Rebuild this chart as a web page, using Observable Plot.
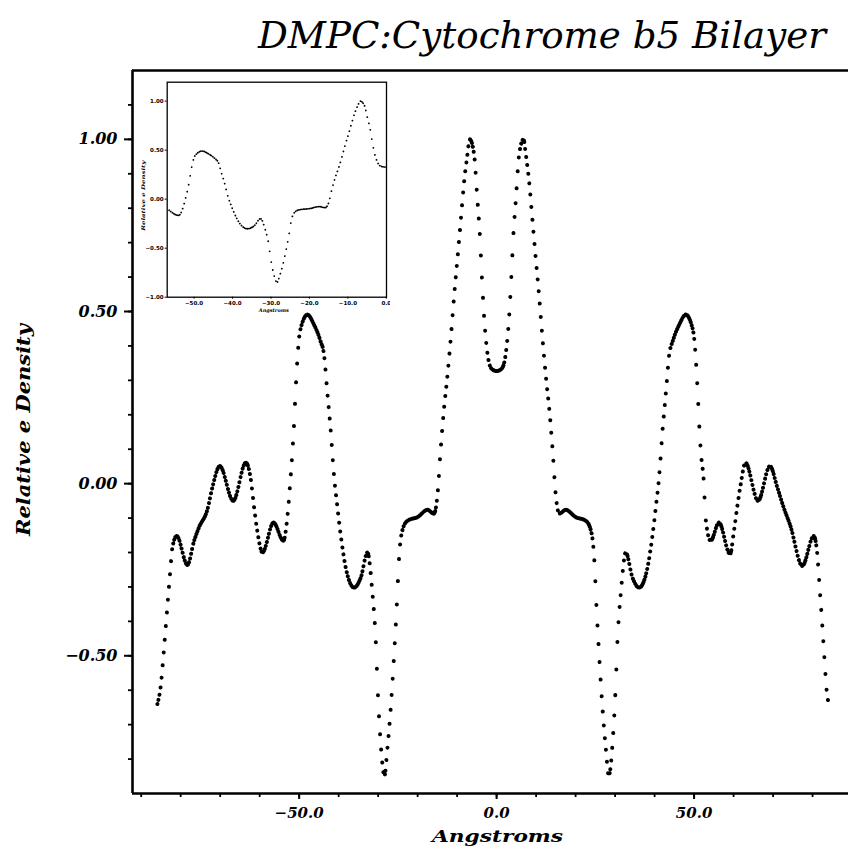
<!DOCTYPE html>
<html><head><meta charset="utf-8">
<script src="https://cdn.jsdelivr.net/npm/d3@7"></script>
<script src="https://cdn.jsdelivr.net/npm/@observablehq/plot@0.6"></script>
<style>
html,body{margin:0;padding:0;background:#fff;}
#wrap{position:relative;width:848px;height:848px;overflow:hidden;background:#fff;}
#main{position:absolute;left:0;top:0;width:848px;}
#titlebox{position:absolute;left:0;top:0;overflow:visible;}
#inset{position:absolute;left:140px;top:76px;width:250px;}
svg{max-width:none !important;}
</style></head><body>
<div id="wrap"><div id="main"></div><svg id="titlebox" width="848" height="68"></svg><div id="inset"></div></div>
<script>
// ---- text ----
const titleText = "DMPC:Cytochrome b5 Bilayer";
const xTitle = "Angstroms";
const yTitle = "Relative e Density";

// ---- data ----
const angstroms = [
 -85.9,-85.1,-84.2,-83.4,-82.7,-82.1,-81.0,-78.3,-76.6,-75.4,-73.2,-72.0,-70.1,-66.7,-63.5,-62.3,-61.4,-60.6,-59.3,-56.5,
 -54.0,-53.0,-52.3,-51.7,-51.3,-50.9,-50.1,-49.2,-47.9,-46.3,-44.6,-43.7,-42.9,-42.0,-41.2,-40.3,-39.5,-38.2,-36.1,-34.4,
 -32.7,-31.5,-30.6,-30.1,-29.4,-28.4,-27.7,-26.8,-26.0,-25.3,-24.7,-23.9,-22.6,-20.0,-17.5,-15.9,-15.0,-14.2,-13.3,-12.5,
 -11.6,-10.8,-9.9,-9.1,-8.3,-7.4,-6.8,-5.7,-4.9,-4.2,-3.8,-3.2,-2.4,-1.8,-1.1,0.0,
 1.1,1.8,2.4,3.2,3.8,4.2,4.9,5.7,6.8,7.4,8.3,9.1,9.9,10.8,11.6,12.5,13.3,14.2,15.0,15.9,17.5,20.0,22.6,23.9,24.7,25.3,
 26.0,26.8,27.7,28.4,29.4,30.1,30.6,31.5,32.7,34.4,36.1,38.2,39.5,40.3,41.2,42.0,42.9,43.7,44.6,46.3,47.9,49.2,50.1,50.9,
 51.3,51.7,52.5,52.9,54.2,56.3,59.1,60.1,60.9,61.8,63.0,66.2,69.2,71.1,72.7,74.4,77.4,80.3,81.2,81.8,82.5,83.0,83.5,84.1
];
const density = [
 -0.640,-0.592,-0.476,-0.360,-0.263,-0.186,-0.152,-0.236,-0.166,-0.128,-0.074,-0.012,0.051,-0.050,0.061,0.017,-0.070,-0.137,-0.200,-0.113,
 -0.166,-0.099,-0.002,0.095,0.172,0.269,0.414,0.467,0.491,0.463,0.414,0.375,0.269,0.153,0.027,-0.070,-0.147,-0.244,-0.302,-0.273,
 -0.200,-0.311,-0.456,-0.601,-0.746,-0.848,-0.775,-0.650,-0.505,-0.360,-0.215,-0.137,-0.108,-0.097,-0.076,-0.087,-0.036,0.095,0.220,0.308,
 0.424,0.540,0.656,0.762,0.869,0.956,1.000,0.956,0.830,0.714,0.617,0.491,0.385,0.346,0.332,0.327,
 0.332,0.346,0.385,0.491,0.617,0.714,0.830,0.956,1.000,0.956,0.869,0.762,0.656,0.540,0.424,0.308,0.220,0.095,-0.036,-0.087,-0.076,-0.097,-0.108,-0.137,-0.215,-0.360,
 -0.505,-0.650,-0.775,-0.848,-0.746,-0.601,-0.456,-0.311,-0.200,-0.273,-0.302,-0.244,-0.147,-0.070,0.027,0.153,0.269,0.375,0.414,0.463,0.491,0.467,0.414,0.269,
 0.172,0.095,-0.002,-0.099,-0.166,-0.113,-0.205,-0.137,-0.070,-0.002,0.061,-0.050,0.051,-0.012,-0.070,-0.123,-0.239,-0.152,-0.205,-0.302,-0.418,-0.505,-0.592,-0.640
];

// ---- axes ----
const xDomain = [-92.2, 89.1];
const yDomain = [-0.9, 1.2];
const xMajorTicks = [-50, 0, 50];
const xMinorTicks = [-90,-80,-70,-60,-50,-40,-30,-20,-10,0,10,20,30,40,50,60,70,80];
const yMajorTicks = [-0.5, 0, 0.5, 1.0];
const yMinorTicks = [-0.8,-0.7,-0.6,-0.5,-0.4,-0.3,-0.2,-0.1,0,0.1,0.2,0.3,0.4,0.5,0.6,0.7,0.8,0.9,1.0,1.1];

const insetXDomain = [-57, 0.05];
const insetYDomain = [-1.0, 1.193];
const insetXTicks = [-50, -40, -30, -20, -10, 0];
const insetYTicks = [-1.0, -0.5, 0, 0.5, 1.0];

const curve = angstroms.map((a, i) => ({x: a, y: density[i]}));
const insetCurve = curve.filter(d => d.x >= -59 && d.x <= 2);

const labFont = {fontFamily: "DejaVu Serif", fontWeight: "bold", fontStyle: "italic"};

const main = Plot.plot({
  width: 848, height: 848,
  marginTop: 70, marginLeft: 132, marginRight: 0, marginBottom: 55,
  x: {domain: xDomain},
  y: {domain: yDomain},
  style: {background: "white", color: "black"},
  marks: [
    Plot.axisY(yMinorTicks, {tickSize: 4, tickFormat: () => "", strokeWidth: 1.8, label: null}),
    Plot.axisY(yMajorTicks, {tickSize: 8, tickPadding: 7, tickFormat: d3.format(".2f"), fontSize: 16, ...labFont, strokeWidth: 2, label: null}),
    Plot.axisX(xMinorTicks, {tickSize: 4, tickFormat: () => "", strokeWidth: 1.8, label: null}),
    Plot.axisX(xMajorTicks, {tickSize: 6, tickPadding: 8, tickFormat: d3.format(".1f"), fontSize: 15, ...labFont, strokeWidth: 2, label: null}),
    Plot.ruleX([xDomain[0]], {strokeWidth: 2.6}),
    Plot.ruleY(yDomain, {strokeWidth: 2.6}),
    Plot.line(curve, {x: "x", y: "y", curve: "monotone-x", stroke: "black", strokeWidth: 4}),
    Plot.text([yTitle], {text: d => d, frameAnchor: "left", textAnchor: "middle", lineAnchor: "middle", rotate: -90, dx: -109, dy: -2, fontSize: 19, ...labFont}),
    Plot.text([xTitle], {text: d => d, frameAnchor: "bottom", textAnchor: "middle", dx: 7, dy: 43, lineAnchor: "middle", fontSize: 16, ...labFont})
  ]
});
document.getElementById("main").appendChild(main);

const inset = Plot.plot({
  width: 250, height: 240,
  marginTop: 5.7, marginLeft: 26.7, marginRight: 4, marginBottom: 19.3,
  x: {domain: insetXDomain},
  y: {domain: insetYDomain},
  style: {background: "transparent", color: "black"},
  marks: [
    Plot.frame({fill: "white", stroke: "black", strokeWidth: 1.3}),
    Plot.axisY(insetYTicks, {tickSize: 2, tickPadding: 1.5, tickFormat: d3.format(".2f"), fontSize: 5.5, fontFamily: "DejaVu Sans", fontWeight: "bold", strokeWidth: 1, label: null}),
    Plot.axisX(insetXTicks, {tickSize: 2, tickPadding: 2, tickFormat: d3.format(".1f"), fontSize: 5.5, fontFamily: "DejaVu Sans", fontWeight: "bold", strokeWidth: 1, label: null}),
    Plot.line(insetCurve, {x: "x", y: "y", curve: "monotone-x", stroke: "black", strokeWidth: 1.8, clip: true}),
    Plot.text([yTitle], {text: d => d, frameAnchor: "left", textAnchor: "middle", lineAnchor: "middle", rotate: -90, dx: -23.5, dy: 6, fontSize: 5, ...labFont}),
    Plot.text([xTitle], {text: d => d, frameAnchor: "bottom", textAnchor: "middle", dx: -3, dy: 13, lineAnchor: "middle", fontSize: 5, ...labFont})
  ]
});
document.getElementById("inset").appendChild(inset);

// title
const ns = "http://www.w3.org/2000/svg";
const t = document.createElementNS(ns, "text");
t.setAttribute("x", 258); t.setAttribute("y", 48);
t.setAttribute("font-family", "DejaVu Serif");
t.setAttribute("font-style", "italic");
t.setAttribute("font-size", 38);
t.setAttribute("textLength", 568);
t.setAttribute("lengthAdjust", "spacingAndGlyphs");
t.textContent = titleText;
document.getElementById("titlebox").appendChild(t);

// fit axis title lengths
function fit(svg, str, len) {
  svg.querySelectorAll("text").forEach(el => {
    if (el.textContent === str) { el.setAttribute("textLength", len); el.setAttribute("lengthAdjust", "spacingAndGlyphs"); }
  });
}
fit(main, yTitle, 212); fit(main, xTitle, 131);
fit(inset, yTitle, 70); fit(inset, xTitle, 30);

// style the line as dots at a constant horizontal step, like the sampled plot
function dotify(svg, stepPx) {
  const path = svg.querySelector('[aria-label="line"] path');
  if (!path) return;
  const L = path.getTotalLength();
  const ds = 0.4;
  const stops = [0];
  let next = path.getPointAtLength(0).x + stepPx;
  for (let s = ds; s <= L; s += ds) {
    const q = path.getPointAtLength(s);
    if (q.x >= next) { stops.push(s); while (next <= q.x) next += stepPx; }
  }
  const dash = [];
  for (let i = 0; i < stops.length; i++) {
    const gap = i + 1 < stops.length ? stops[i + 1] - stops[i] : L + 20;
    dash.push(0.01, Math.max(0.01, gap - 0.01));
  }
  path.setAttribute("stroke-dasharray", dash.map(d => d.toFixed(2)).join(" "));
  path.setAttribute("stroke-linecap", "round");
}
dotify(main, 1.05);
dotify(inset, 1.5);
</script>
</body></html>
